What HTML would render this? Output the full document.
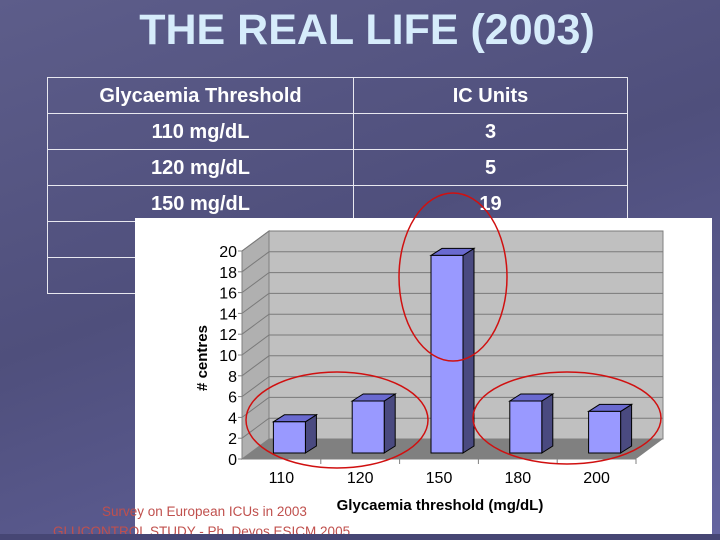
<!DOCTYPE html>
<html><head><meta charset="utf-8"><style>
body{margin:0;width:720px;height:540px;overflow:hidden;font-family:"Liberation Sans",sans-serif}
#slide{position:relative;width:720px;height:540px;background:linear-gradient(160deg,#5d5d8a 0%,#4f4f7c 45%,#6464a0 100%);overflow:hidden}
#title{position:absolute;left:0;width:734px;top:6px;text-align:center;color:#d6ecfb;font-weight:bold;font-size:43px}
table{position:absolute;left:47px;top:77px;border-collapse:collapse;color:#fff;font-weight:bold;font-size:20px}
td{border:1px solid #e8e8f0;height:33px;text-align:center;padding:0;padding-top:2px}
#foot{position:absolute;color:#c0504d;font-size:13.5px;white-space:nowrap}
#band{position:absolute;left:0;top:534px;width:720px;height:6px;background:#464674}
</style></head><body>
<div id="slide">
<div id="title">THE REAL LIFE (2003)</div>
<table>
<tr><td style="width:305px">Glycaemia Threshold</td><td style="width:273px">IC Units</td></tr>
<tr><td>110 mg/dL</td><td>3</td></tr>
<tr><td>120 mg/dL</td><td>5</td></tr>
<tr><td>150 mg/dL</td><td>19</td></tr>
<tr><td>180 mg/dL</td><td>5</td></tr>
<tr><td>200 mg/dL</td><td>4</td></tr>
</table>
<svg id="chart" width="720" height="540" style="position:absolute;left:0;top:0">
<rect x="135" y="218" width="577" height="316" fill="#fff"/>
<g id="g"></g>
</svg>
<div id="foot" style="left:102px;top:504px">Survey on European ICUs in 2003</div>
<div id="foot2" style="position:absolute;color:#c0504d;font-size:13.5px;white-space:nowrap;left:53px;top:524px">GLUCONTROL STUDY - Ph. Devos ESICM 2005</div>
<div id="band"></div>
</div>
<script>
const categories=["110","120","150","180","200"];
const values=[3,5,19,5,4];
const yTicks=[0,2,4,6,8,10,12,14,16,18,20];
const NS="http://www.w3.org/2000/svg";
const g=document.getElementById('g');
function mk(t,a){const e=document.createElementNS(NS,t);for(const k in a)e.setAttribute(k,a[k]);g.appendChild(e);return e;}
const x0=242,x1=636,yBase=459,yTop=251,dx=27,dy=-20;
const y=v=>yBase-(v/20)*(yBase-yTop);
const cw=(x1-x0)/categories.length;
let e;
e=mk('polygon',{points:`${x0},${yBase} ${x0+dx},${yBase+dy} ${x0+dx},${yTop+dy} ${x0},${yTop}`,fill:'#b0b0b0',stroke:'#808080'});

e=mk('rect',{x:x0+dx,y:yTop+dy,width:x1+dx-x0-dx,height:yBase-yTop,fill:'#c0c0c0',stroke:'#808080'});

e=mk('polygon',{points:`${x0},${yBase} ${x0+dx},${yBase+dy} ${x1+dx},${yBase+dy} ${x1},${yBase}`,fill:'#808080'});

yTicks.forEach(t=>{
  if(t>0){e=mk('polyline',{points:`${x0},${y(t)} ${x0+dx},${y(t)+dy} ${x1+dx},${y(t)+dy}`,fill:'none',stroke:'#7a7a7a','stroke-width':1});
  }
  e=mk('text',{x:237,y:y(t)+6,'text-anchor':'end','font-size':16,fill:'#000'});e.textContent=t;
  
  mk('line',{x1:x0-4,y1:y(t),x2:x0,y2:y(t),stroke:'#808080'});
});
mk('line',{x1:x0,y1:yBase,x2:x1,y2:yBase,stroke:'#808080'});
mk('line',{x1:x0,y1:yBase,x2:x0,y2:yTop,stroke:'#808080'});
categories.forEach((c,i)=>{
  const cx=x0+cw*(i+0.5)+8,w=32,bx=cx-w/2,bb=yBase-6,bt=bb-(values[i]/20)*(yBase-yTop),d=11,h=7;
  e=mk('polygon',{points:`${bx+w},${bb} ${bx+w+d},${bb-h} ${bx+w+d},${bt-h} ${bx+w},${bt}`,fill:'#4a4a80',stroke:'#000','stroke-width':1});
  
  e=mk('polygon',{points:`${bx},${bt} ${bx+d},${bt-h} ${bx+w+d},${bt-h} ${bx+w},${bt}`,fill:'#6a6ad0',stroke:'#000','stroke-width':1});
  
  e=mk('rect',{x:bx,y:bt,width:w,height:bb-bt,fill:'#9999ff',stroke:'#000','stroke-width':1});
  
  e=mk('text',{x:x0+cw*(i+0.5),y:483,'text-anchor':'middle','font-size':16,fill:'#000'});e.textContent=c;
  
  mk('line',{x1:x0+cw*(i+1),y1:yBase,x2:x0+cw*(i+1),y2:yBase+5,stroke:'#808080'});
});
e=mk('text',{x:440,y:510,'text-anchor':'middle','font-size':15,'font-weight':'bold',fill:'#000'});e.textContent='Glycaemia threshold (mg/dL)';

e=mk('text',{x:0,y:0,'text-anchor':'middle','font-size':15,'font-weight':'bold',fill:'#000',transform:'translate(207,358) rotate(-90)'});e.textContent='# centres';

[[337,420,91,48],[567,418,94,46],[453,277,54,84]].forEach(a=>{
  e=mk('ellipse',{cx:a[0],cy:a[1],rx:a[2],ry:a[3],fill:'none',stroke:'#d01010','stroke-width':1.5});
  
});
</script>
</body></html>
